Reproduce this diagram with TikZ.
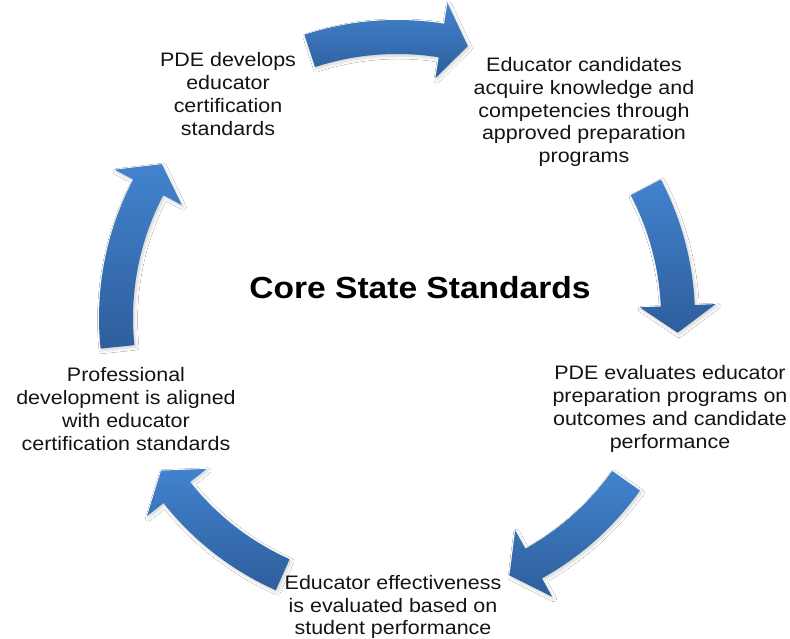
\documentclass[tikz,border=0pt]{standalone}
\usepackage{fontspec}
\setmainfont{Liberation Sans}[FakeStretch=1.1]
\usetikzlibrary{calc,shadows.blur}
\definecolor{arrowtop}{RGB}{66,131,206}
\definecolor{arrowbot}{RGB}{46,94,156}
\definecolor{txtcol}{RGB}{20,20,20}
\tikzset{
  cyclearrow/.style={top color=arrowtop, bottom color=arrowbot, draw=none,
    blur shadow={shadow xshift=1.5pt, shadow yshift=-2pt, shadow blur steps=8, shadow blur radius=3pt, shadow opacity=18}},
  stagetext/.style={align=center, text=txtcol, inner sep=0pt,
    font=\fontsize{19.5}{22.7}\selectfont},
  titletext/.style={align=center, text=black, inner sep=0pt,
    font=\fontsize{30.5}{34}\selectfont\bfseries}
}
\newcommand{\cycarrow}[2]{%
  \pgfmathsetmacro{\hb}{#2+5.5}%
  \path[cyclearrow] ($(ctr)+(#1:298pt)$) arc[start angle=#1, end angle=\hb, radius=298pt]
    -- ($(ctr)+(\hb:319pt)$) -- ($(ctr)+(#2:281pt)$) -- ($(ctr)+(\hb:243pt)$)
    -- ($(ctr)+(\hb:264pt)$) arc[start angle=\hb, end angle=#1, radius=264pt] -- cycle;}
\begin{document}
\begin{tikzpicture}[x=1pt,y=1pt]
\useasboundingbox[fill=white] (0,0) rectangle (790,639);
\coordinate (ctr) at (397,321);
% arrows (clockwise)
\cycarrow{108.1}{75.4}
\cycarrow{27.7}{-3.0}
\cycarrow{-35.4}{-66.4}
\cycarrow{-114.0}{-147.1}
\cycarrow{185.9}{146.8}
% texts
\node[stagetext] (n1) at (228,545) {PDE develops\\educator\\certification\\standards};
\node[stagetext] (n2) at (584,527) {Educator candidates\\acquire knowledge and\\competencies through\\approved preparation\\programs};
\node[stagetext] (n3) at (670,230) {PDE evaluates educator\\preparation programs on\\outcomes and candidate\\performance};
\node[stagetext] (n4) at (126,230) {Professional\\development is aligned\\with educator\\certification standards};
\node[stagetext] (n5) at (393,32) {Educator effectiveness\\is evaluated based on\\student performance};
\node[titletext] (core) at (420,351) {Core State Standards};
\end{tikzpicture}
\end{document}
